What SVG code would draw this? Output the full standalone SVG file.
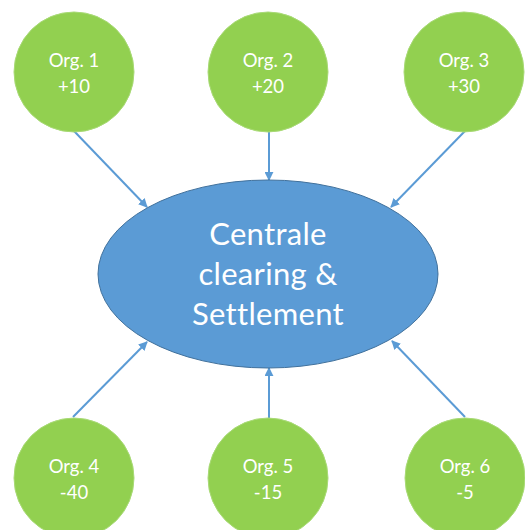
<svg xmlns="http://www.w3.org/2000/svg" width="525" height="530" viewBox="0 0 525 530">
<style>
.org{fill:#92D050;stroke:#A9DA77;stroke-width:1}
.lbl{font-family:Lato,"Open Sans","Liberation Sans",sans-serif;font-size:18.5px;fill:#fff;text-anchor:middle}
.big{font-family:Lato,"Open Sans","Liberation Sans",sans-serif;font-size:31px;fill:#fff;text-anchor:middle;letter-spacing:0.3px}
.conn line{stroke:#5B9BD5;stroke-width:2;marker-end:url(#ah)}
</style>
<defs>
<marker id="ah" viewBox="0 0 10 10" refX="9" refY="5" markerWidth="4.5" markerHeight="4.5" orient="auto" markerUnits="strokeWidth">
<path d="M0,0 L10,5 L0,10 z" fill="#5B9BD5"/>
</marker>
</defs>
<rect width="525" height="530" fill="#fff"/>
<g class="conn" id="connectors">
<line x1="74" y1="131" x2="147" y2="207"/>
<line x1="269" y1="131" x2="269" y2="180"/>
<line x1="465" y1="131" x2="391" y2="207"/>
<line x1="73" y1="417" x2="147" y2="342"/>
<line x1="269" y1="418" x2="269" y2="368"/>
<line x1="465" y1="417" x2="392" y2="341"/>
</g>
<g id="centre">
<ellipse cx="268" cy="274" rx="170" ry="94" fill="#5B9BD5" stroke="#41719C" stroke-width="1"/>
<text class="big" x="268" y="245">Centrale</text>
<text class="big" x="268" y="285">clearing &amp;</text>
<text class="big" x="268" y="325">Settlement</text>
</g>
<g id="org1"><circle class="org" cx="74" cy="72" r="60"/><text class="lbl" x="74" y="67">Org. 1</text><text class="lbl" x="74" y="93">+10</text></g>
<g id="org2"><circle class="org" cx="268" cy="72" r="60"/><text class="lbl" x="268" y="67">Org. 2</text><text class="lbl" x="268" y="93">+20</text></g>
<g id="org3"><circle class="org" cx="464" cy="72" r="60"/><text class="lbl" x="464" y="67">Org. 3</text><text class="lbl" x="464" y="93">+30</text></g>
<g id="org4"><circle class="org" cx="74" cy="478" r="60"/><text class="lbl" x="74" y="473">Org. 4</text><text class="lbl" x="74" y="499">-40</text></g>
<g id="org5"><circle class="org" cx="268" cy="478" r="60"/><text class="lbl" x="268" y="473">Org. 5</text><text class="lbl" x="268" y="499">-15</text></g>
<g id="org6"><circle class="org" cx="465" cy="478" r="60"/><text class="lbl" x="465" y="473">Org. 6</text><text class="lbl" x="465" y="499">-5</text></g>
</svg>
